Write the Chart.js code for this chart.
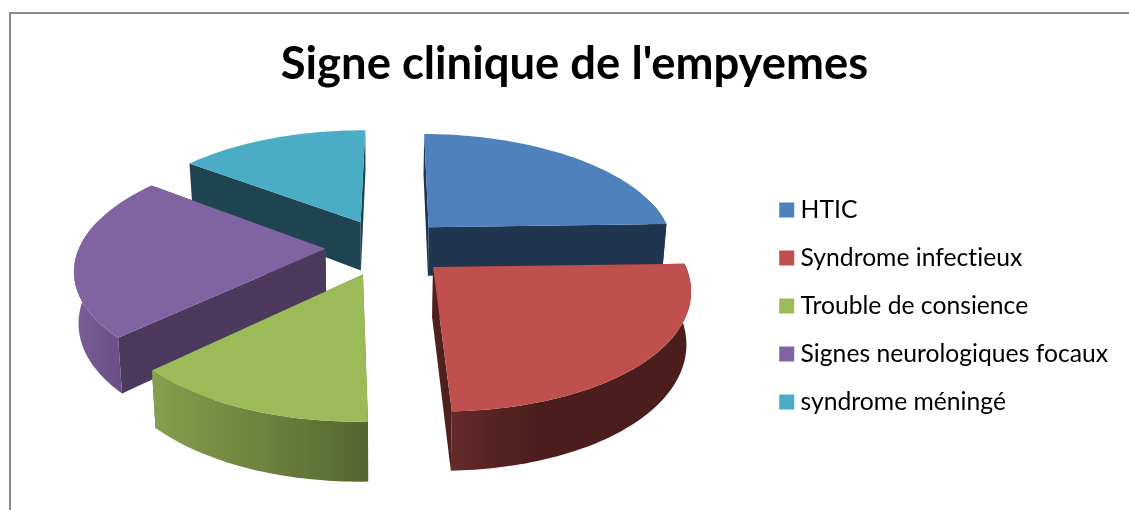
<!DOCTYPE html>
<html lang="fr">
<head>
<meta charset="utf-8">
<title>Signe clinique de l'empyemes</title>
<script src="https://cdn.jsdelivr.net/npm/chart.js@4/dist/chart.umd.min.js"></script>
<style>
  html, body { margin: 0; height: 100%; overflow: hidden; background: #fff; }
  #cadre { position: absolute; left: 9px; top: 12px; border-left: 2px solid #8c8c8c; border-top: 2px solid #8c8c8c; }
  canvas { display: block; }
</style>
</head>
<body>
<div id="cadre"><canvas id="pieChart" width="1127" height="584"></canvas></div>
<script>
// Données (en %)
const categories = ["HTIC", "Syndrome infectieux", "Trouble de consience", "Signes neurologiques focaux", "syndrome méningé"];
const valeurs = [24.4, 25, 13.3, 22.5, 14.8];

const couleurs = ["#4f81bd", "#c0504d", "#9bbb59", "#8064a2", "#4bacc6"];
const couleursParoi = ["#20354f", "#4f201e", "#56682f", "#4b3a5e", "#1d4450"];
const degradesBord = [
  ["#20354f", "#20354f"],
  ["#632a28", "#4b1e1d"],
  ["#85a04e", "#556630"],
  ["#7a5e9c", "#6a5086"],
  ["#1d4450", "#1d4450"]
];
const ordreDessin = [4, 0, 3, 1, 2];

// Projection du disque (plan u,v) vers le canvas
const CX = 371, CY = 233, RX = 246, KY = 114, PERSP = 0.16;
const ECLATE = 0.25, HAUTEUR = 50;

function projete(u, v) {
  const s = 1 / (1 - PERSP * v);
  return { x: CX + RX * u * s, y: CY + KY * v * s, v };
}
function enBas(p) {
  return { x: CX + (p.x - CX) * 0.985, y: p.y + HAUTEUR * (1 + 0.16 * p.v) };
}
function trace(ctx, points, couleur) {
  ctx.beginPath();
  points.forEach((p, i) => i ? ctx.lineTo(p.x, p.y) : ctx.moveTo(p.x, p.y));
  ctx.closePath();
  ctx.fillStyle = couleur;
  ctx.fill();
}

// Dessine les tranches en 3D à partir des angles calculés par Chart.js
const tarte3d = {
  id: "tarte3d",
  beforeUpdate(chart) { chart.ctx.textRendering = "optimizeSpeed"; },
  beforeDraw(chart) { chart.ctx.textRendering = "optimizeSpeed"; },
  beforeDatasetDraw(chart, args) {
    const ctx = chart.ctx;
    const arcs = args.meta.data;
    ordreDessin.forEach(i => {
      const arc = arcs[i];
      const milieu = (arc.startAngle + arc.endAngle) / 2;
      const ou = 0.02 + ECLATE * Math.cos(milieu);
      const ov = ECLATE * Math.sin(milieu);
      const apex = projete(ou, ov);

      const bord = [];
      const n = Math.ceil((arc.endAngle - arc.startAngle) / 0.02);
      for (let k = 0; k <= n; k++) {
        const a = arc.startAngle + (arc.endAngle - arc.startAngle) * k / n;
        bord.push({ a, p: projete(ou + Math.cos(a), ov + Math.sin(a)) });
      }
      const debut = bord[0].p, fin = bord[n].p;

      // parois radiales
      trace(ctx, [apex, debut, enBas(debut), enBas(apex)], couleursParoi[i]);
      trace(ctx, [apex, fin, enBas(fin), enBas(apex)], couleursParoi[i]);

      // bord extérieur, partie tournée vers l'avant (un peu plus large pour la silhouette)
      const avant = bord.filter(b => Math.sin(b.a) > -0.25).map(b => b.p);
      if (avant.length > 1) {
        const xs = avant.map(p => p.x);
        const g = ctx.createLinearGradient(Math.min(...xs), 0, Math.max(...xs), 0);
        g.addColorStop(0, degradesBord[i][0]);
        g.addColorStop(i === 1 ? 0.35 : 1, degradesBord[i][1]);
        g.addColorStop(1, degradesBord[i][1]);
        trace(ctx, avant.concat(avant.map(enBas).reverse()), g);
      }

      // face du dessus
      trace(ctx, [apex].concat(bord.map(b => b.p)), couleurs[i]);
    });
    return false;
  }
};

new Chart(document.getElementById("pieChart").getContext("2d"), {
  type: "pie",
  data: {
    labels: categories,
    datasets: [{
      data: valeurs,
      backgroundColor: couleurs,
      // le carré de légende vient surtout du trait : texte plus près du carré
      borderColor: couleurs,
      borderWidth: 12
    }]
  },
  options: {
    responsive: false,
    animation: false,
    rotation: 0.5,
    layout: { padding: { left: 20, right: 20 } },
    plugins: {
      title: {
        display: true,
        text: "Signe clinique de l'empyemes",
        color: "#000",
        font: { family: "Lato", size: 45.4, weight: "bold" },
        padding: { top: 23, bottom: 20 }
      },
      legend: {
        position: "right",
        labels: {
          color: "#000",
          boxWidth: 3,
          boxHeight: 3,
          padding: 23.3,
          font: { family: "Lato", size: 24.7 }
        }
      },
      tooltip: { enabled: false }
    }
  },
  plugins: [tarte3d]
});
</script>
</body>
</html>
